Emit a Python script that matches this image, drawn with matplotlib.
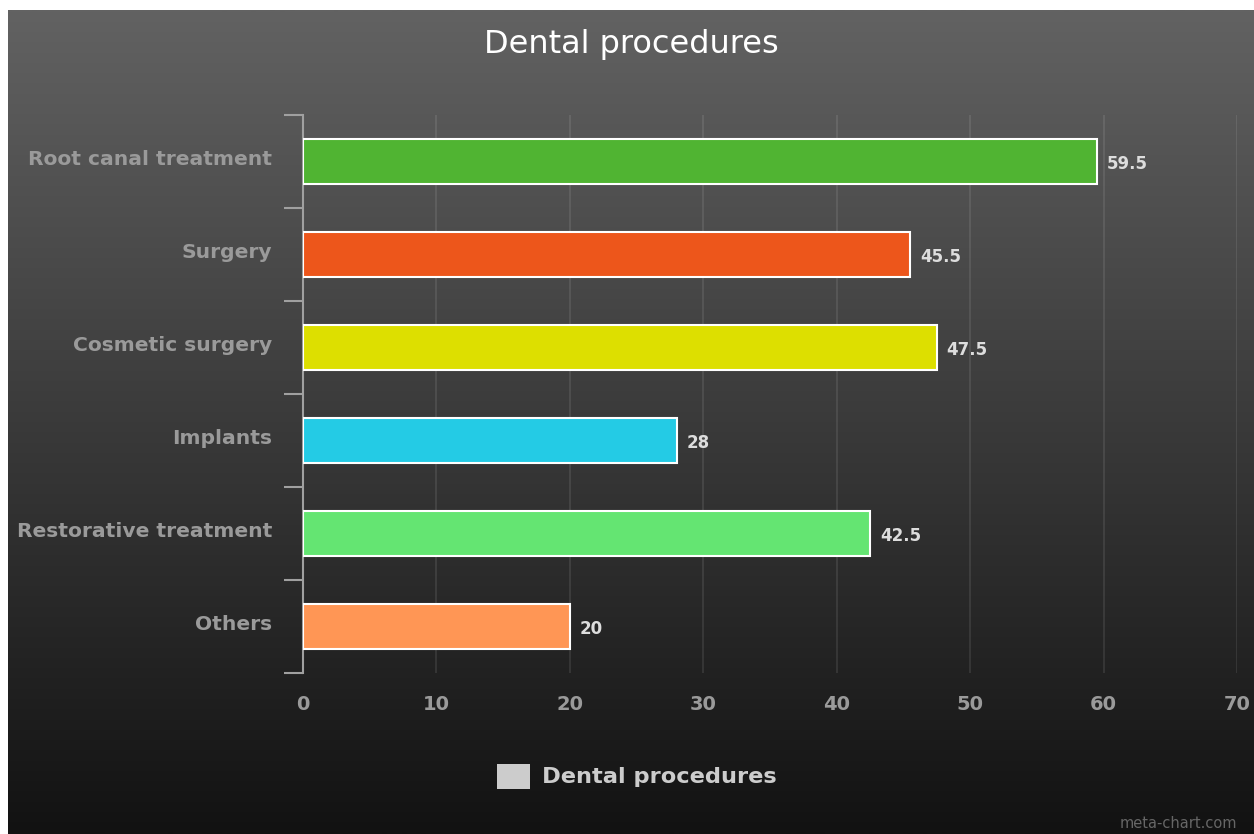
import numpy as np
import matplotlib
matplotlib.use("Agg")
import matplotlib.pyplot as plt
from matplotlib.patches import Rectangle
from matplotlib.transforms import offset_copy

categories = ["Root canal treatment", "Surgery", "Cosmetic surgery", "Implants",
              "Restorative treatment", "Others"]
values = [59.5, 45.5, 47.5, 28, 42.5, 20]
value_labels = ["59.5", "45.5", "47.5", "28", "42.5", "20"]
bar_colors = ["#50B432", "#ED561B", "#DDDF00", "#24CBE5", "#64E572", "#FF9655"]
x_ticks = [0, 10, 20, 30, 40, 50, 60, 70]
title = "Dental procedures"
series_name = "Dental procedures"

W, H = 1254, 834
fig = plt.figure(figsize=(W / 100, H / 100), dpi=100)
fig.patch.set_facecolor("white")

# gradient background
bg = fig.add_axes([8 / W, 0, 1 - 8 / W, 1 - 10 / H], zorder=0)
grad = np.linspace(98, 18, 256)[:, None] / 255.0
img = np.dstack([grad, grad, grad])
bg.imshow(img, aspect="auto", extent=[0, 1, 0, 1], interpolation="bilinear")
bg.set_axis_off()

ax = fig.add_axes([303 / W, 1 - 673 / H, (1237 - 303) / W, (673 - 115) / H], zorder=1)
ax.set_facecolor("none")

n = len(categories)
ypos = np.arange(n)
ax.barh(ypos, values, height=0.49, color=bar_colors, edgecolor="white", linewidth=1.5, zorder=3)
ax.set_xlim(0, 70)
ax.set_ylim(n - 0.5, -0.5)

for y, v, lab in zip(ypos, values, value_labels):
    ax.annotate(lab, (v, y), xytext=(7, -2), textcoords="offset points",
                ha="left", va="center", color="#dddddd", fontsize=12,
                fontweight="bold", family="DejaVu Sans", zorder=4)

# grid
ax.set_xticks(x_ticks)
ax.set_xticklabels([str(t) for t in x_ticks])
ax.tick_params(axis="x", length=0, pad=16, labelsize=14, labelcolor="#9a9a9a")
for t in x_ticks[1:]:
    ax.axvline(t, color="white", alpha=0.11, linewidth=1.2, zorder=1)

# y ticks: boundaries as major, labels as minor
ax.set_yticks(np.arange(-0.5, n, 1.0))
ax.set_yticklabels([])
ax.tick_params(axis="y", which="major", length=14, width=1.5, color="#a0a0a0", direction="out")
ax.set_yticks(ypos, minor=True)
ax.set_yticklabels(categories, minor=True)
ax.tick_params(axis="y", which="minor", length=0, pad=22, labelsize=14.6,
               labelcolor="#9a9a9a")
for lbl in ax.get_yticklabels(minor=True):
    lbl.set_fontweight("bold")
    lbl.set_transform(offset_copy(lbl.get_transform(), fig=fig, x=0, y=3, units="points"))
for lbl in ax.get_xticklabels():
    lbl.set_fontweight("bold")

for s in ["top", "right", "bottom"]:
    ax.spines[s].set_visible(False)
ax.spines["left"].set_color("#a0a0a0")
ax.spines["left"].set_linewidth(1.5)

# title
fig.text(631 / W, 1 - 45 / H, title, ha="center", va="center", color="white", fontsize=23)

# legend
fig.patches.append(Rectangle((497 / W, 1 - 789 / H), 33 / W, 25 / H,
                             transform=fig.transFigure, facecolor="#cccccc",
                             edgecolor="none", zorder=5))
fig.text(542 / W, 1 - 777 / H, series_name, ha="left", va="center", color="#cccccc",
         fontsize=16.2, fontweight="bold", zorder=5)

# watermark
fig.text(1237 / W, 1 - 823 / H, "meta-chart.com", ha="right", va="center",
         color="#666666", fontsize=10.5)

fig.savefig("out.png", dpi=100)
